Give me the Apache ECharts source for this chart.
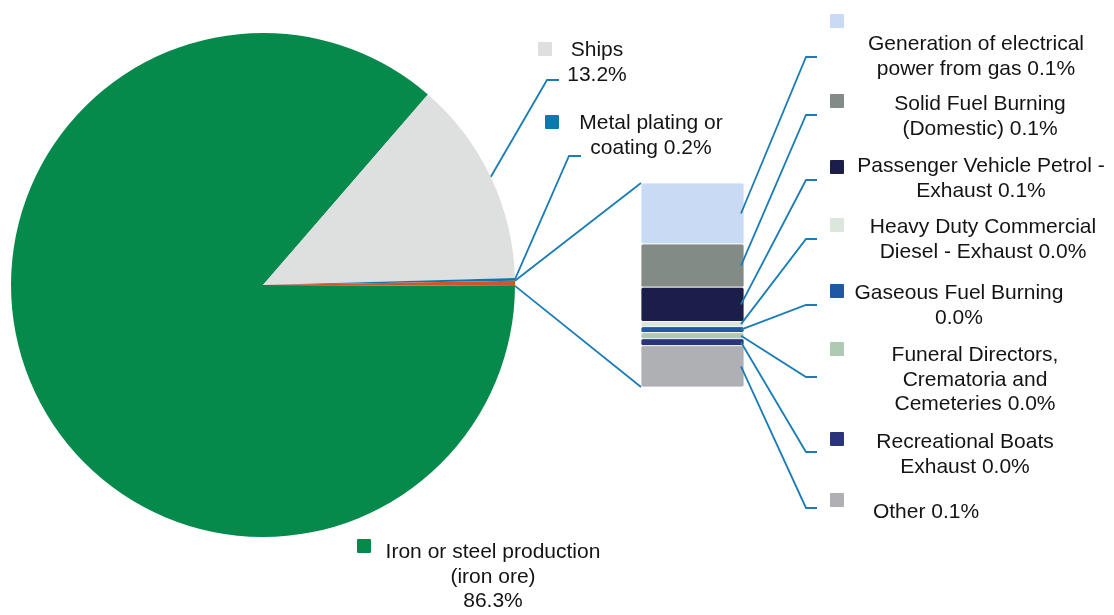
<!DOCTYPE html>
<html>
<head>
<meta charset="utf-8">
<script src="https://cdn.jsdelivr.net/npm/echarts@6/dist/echarts.min.js"></script>
<style>
html,body{margin:0;padding:0;background:#ffffff;}
#chart{width:1114px;height:615px;}
</style>
</head>
<body>
<div id="chart"></div>
<script>
// ---------------- DATA ----------------
const pieNames = ['Iron or steel production\n(iron ore)', 'Ships', 'Metal plating or\ncoating', 'Other'];
const piePctSep = ['\n', '\n', ' ', ' '];
const pieMainValues = [86.3, 13.2, 0.18];           // Other slice = sum of subValues

const subNames = [
  'Generation of electrical\npower from gas',
  'Solid Fuel Burning\n(Domestic)',
  'Passenger Vehicle Petrol -\nExhaust',
  'Heavy Duty Commercial\nDiesel - Exhaust',
  'Gaseous Fuel Burning',
  'Funeral Directors,\nCrematoria and\nCemeteries',
  'Recreational Boats\nExhaust',
  'Other'
];
const subPctSep = [' ', ' ', ' ', ' ', '\n', ' ', ' ', ' '];
const subValues = [0.096, 0.068, 0.054, 0.008, 0.0095, 0.0095, 0.011, 0.065];

// ---------------- STYLES ----------------
const pieColors = ['#068A4B', '#DEDFDF', '#0B78AE', '#D4532B'];
const subColors = ['#C9DAF5', '#838B87', '#1B1E48', '#DCE6DD', '#1F58A3', '#AFCAB3', '#2A3479', '#AEB0B4'];
const LINE = '#1A7DB5';
const LW = 1.8;
const FONT = '"Liberation Sans", Arial, Helvetica, sans-serif';
const FS = 21, LH = 24.5, TEXT = '#141414';
const MARK = 14;

const PIE = { cx: 263, cy: 285, r: 252, start: -0.2 };
const PIE_LABELS = [
  { cx: 493, top: 540, mx: 357, my: 539 },
  { cx: 597, top: 38, mx: 538, my: 42, hook: [[547, 80], [559, 80]] },
  { cx: 651, top: 111, mx: 545, my: 115, hook: [[569, 156], [581, 156]] },
  null
];
const HOOK_X = [806, 817];
const SUB_MARK_X = 830;
const SUB_LABELS = [
  { cx: 976, top: 32, my: 14, hook: 57 },
  { cx: 980, top: 92, my: 94, hook: 115 },
  { cx: 981, top: 154, my: 160, hook: 180 },
  { cx: 983, top: 215, my: 218, hook: 239 },
  { cx: 959, top: 281, my: 284, hook: 305 },
  { cx: 975, top: 343, my: 342, hook: 377 },
  { cx: 965, top: 430, my: 432, hook: 452 },
  { cx: 926, top: 500, my: 493, hook: 508 }
];

// ---------------- DERIVED ----------------
const otherTotal = subValues.reduce((a, b) => a + b, 0);
const pieValues = pieMainValues.concat([otherTotal]);
const total = pieValues.reduce((a, b) => a + b, 0);
const pct = v => (v / total * 100).toFixed(1) + '%';

const sliceAngles = [];
(function () {
  let a = PIE.start;
  pieValues.forEach(v => { const span = v / total * 360; sliceAngles.push([a, a - span]); a -= span; });
})();
const edgePt = deg => [PIE.cx + PIE.r * Math.cos(deg * Math.PI / 180), PIE.cy - PIE.r * Math.sin(deg * Math.PI / 180)];

const cum = [];
subValues.reduce((acc, v) => { cum.push(acc); return acc + v; }, 0);

const otherIdx = pieValues.length - 1;

const chart = echarts.init(document.getElementById('chart'), null, { renderer: 'canvas' });

const option = {
  animation: false,
  backgroundColor: '#ffffff',
  grid: { left: 641, top: 183, width: 103, height: 204 },
  xAxis: { type: 'category', data: ['Other'], show: false },
  yAxis: { type: 'value', min: 0, max: otherTotal, inverse: true, show: false },
  graphic: PIE_LABELS.map((L, i) => L ? {
    type: 'rect', z: 100,
    shape: { x: L.mx, y: L.my, width: MARK, height: MARK, r: 1 },
    style: { fill: pieColors[i] }
  } : null).filter(Boolean),
  series: [
    {
      type: 'pie',
      center: [PIE.cx, PIE.cy],
      radius: PIE.r,
      startAngle: 360 + PIE.start,
      clockwise: true,
      avoidLabelOverlap: false,
      silent: true,
      emphasis: { disabled: true },
      data: pieValues.map((v, i) => ({
        name: pieNames[i],
        value: v,
        itemStyle: { color: pieColors[i] },
        label: { show: i !== otherIdx },
        labelLine: { show: !!(PIE_LABELS[i] && PIE_LABELS[i].hook) }
      })),
      label: {
        position: 'outside',
        formatter: p => pieNames[p.dataIndex] + piePctSep[p.dataIndex] + pct(p.value),
        width: 320,
        overflow: 'none',
        align: 'center',
        fontSize: FS,
        lineHeight: LH,
        fontFamily: FONT,
        color: TEXT
      },
      labelLine: { show: true, smooth: false, lineStyle: { color: LINE, width: LW } },
      labelLayout: function (params) {
        const i = params.dataIndex;
        const L = PIE_LABELS[i];
        if (!L) return {};
        const out = { x: L.cx, y: L.top, align: 'center', verticalAlign: 'top' };
        if (L.hook) {
          const mid = (sliceAngles[i][0] + sliceAngles[i][1]) / 2;
          out.labelLinePoints = [edgePt(mid), L.hook[0], L.hook[1]];
        }
        return out;
      }
    },
    {
      type: 'custom',
      coordinateSystem: 'cartesian2d',
      silent: true,
      data: subValues.map((v, i) => [0, cum[i], cum[i] + v]),
      encode: { x: 0, y: [1, 2] },
      renderItem: function (params, api) {
        const i = params.dataIndex;
        const p0 = api.coord([api.value(0), api.value(1)]);
        const p1 = api.coord([api.value(0), api.value(2)]);
        const bw = api.size([1, 0])[0];
        const x0 = p0[0] - bw / 2;
        const L = SUB_LABELS[i];
        const children = [
          {
            type: 'rect',
            shape: { x: x0, y: p0[1], width: bw, height: p1[1] - p0[1], r: 2 },
            style: { fill: subColors[i], stroke: '#ffffff', lineWidth: 0.8 }
          },
          {
            type: 'polyline', z2: 5,
            shape: { points: [[x0 + bw - 3, (p0[1] + p1[1]) / 2], [HOOK_X[0], L.hook], [HOOK_X[1], L.hook]] },
            style: { stroke: LINE, lineWidth: LW, fill: 'none' }
          },
          {
            type: 'rect',
            shape: { x: SUB_MARK_X, y: L.my, width: MARK, height: MARK, r: 1 },
            style: { fill: subColors[i] }
          },
          {
            type: 'text',
            x: L.cx, y: L.top,
            style: {
              text: subNames[i] + subPctSep[i] + pct(subValues[i]),
              fill: TEXT, fontSize: FS, fontFamily: FONT, lineHeight: LH,
              align: 'center', verticalAlign: 'top'
            }
          }
        ];
        const oa = sliceAngles[otherIdx];
        if (i === 0) {
          const s = edgePt(oa[0]);
          children.push({ type: 'line', shape: { x1: s[0], y1: s[1], x2: x0, y2: p0[1] }, style: { stroke: LINE, lineWidth: LW } });
        }
        if (i === subValues.length - 1) {
          const s = edgePt(oa[1]);
          children.push({ type: 'line', shape: { x1: s[0], y1: s[1], x2: x0, y2: p1[1] }, style: { stroke: LINE, lineWidth: LW } });
        }
        return { type: 'group', children: children };
      }
    }
  ]
};
chart.setOption(option);
</script>
</body>
</html>
